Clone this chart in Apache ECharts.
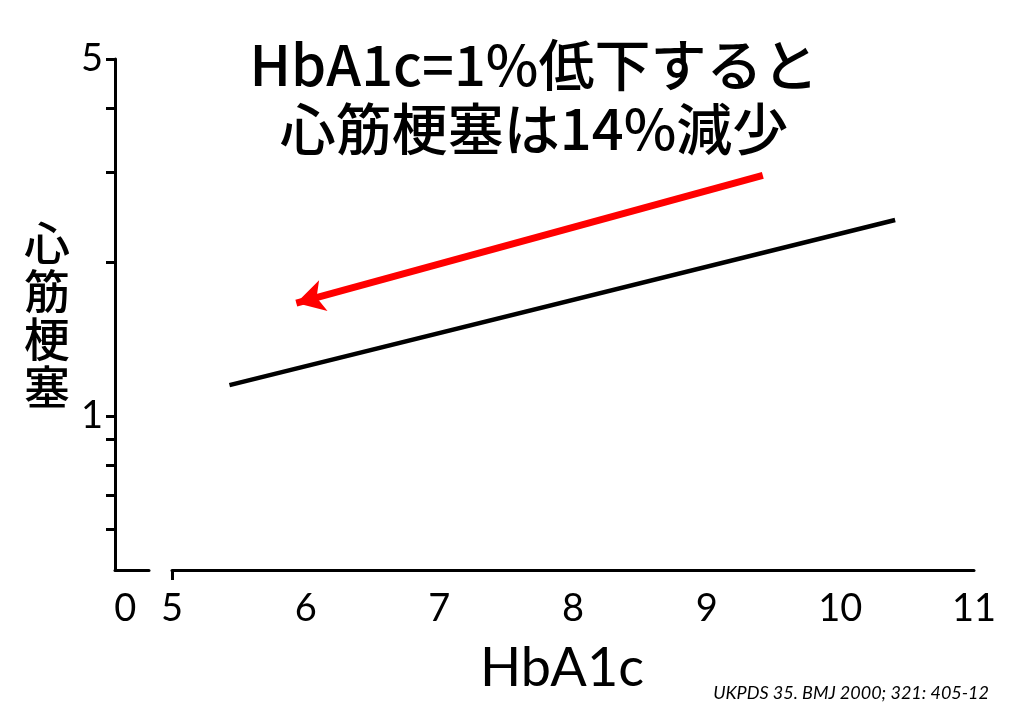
<!DOCTYPE html>
<html><head><meta charset="utf-8">
<script src="https://cdn.jsdelivr.net/npm/echarts@6/dist/echarts.min.js"></script>
<style>html,body{margin:0;padding:0;background:#fff}#c{width:1024px;height:713px}</style>
</head><body><div id="c"></div>
<script>
const titleLines = ['HbA1c=1%低下すると', '心筋梗塞は14%減少'];
const yName = '心筋梗塞';
const xName = 'HbA1c';
const source = 'UKPDS 35. BMJ 2000; 321: 405-12';
const xTickLabels = [5, 6, 7, 8, 9, 10, 11];
const yTickLabels = [1, 5];
const yMinorTicks = [0.6, 0.7, 0.8, 0.9, 1, 2, 3, 4, 5];
const riskLine = [[5.43, 1.15], [10.41, 2.42]];
const arrowFrom = [9.42, 2.96];
const arrowTo = [5.93, 1.665];

const chart = echarts.init(document.getElementById('c'), null, {renderer: 'canvas'});
const latin = 'Lato, "Noto Sans CJK JP", sans-serif';
const cjk = '"Noto Sans CJK JP", sans-serif';
chart.setOption({
  animation: false,
  backgroundColor: '#fff',
  title: [
    {text: titleLines.join('\n'), top: 28, left: 529, textAlign: 'center',
     textStyle: {fontFamily: cjk, fontSize: 56, fontWeight: 500, color: '#000', lineHeight: 64}},
    {text: source, right: 30, top: 679,
     textStyle: {fontFamily: latin, fontSize: 18, fontStyle: 'italic', fontWeight: 'normal', color: '#000'}}
  ],
  grid: [
    {left: 172, right: 50, top: 59, bottom: 143},
    {left: 115, width: 34, top: 59, bottom: 143}
  ],
  xAxis: [
    {type: 'value', gridIndex: 0, min: 5, max: 11, interval: 1,
     name: xName, nameLocation: 'middle', nameGap: 72,
     nameTextStyle: {fontFamily: latin, fontSize: 54, color: '#000', padding: [0, 22, 0, 0]},
     axisLine: {lineStyle: {color: '#000', width: 3}},
     axisTick: {show: true, customValues: [5], length: 10, lineStyle: {color: '#000', width: 3}},
     axisLabel: {customValues: xTickLabels, fontFamily: latin, fontSize: 38, color: '#000', margin: 20},
     splitLine: {show: false}},
    {type: 'value', gridIndex: 1, min: -0.3, max: 0.7,
     axisLine: {lineStyle: {color: '#000', width: 3}},
     axisTick: {show: false},
     axisLabel: {customValues: [0], fontFamily: latin, fontSize: 38, color: '#000', margin: 20},
     splitLine: {show: false}}
  ],
  yAxis: [
    {type: 'log', gridIndex: 0, min: 0.5, max: 5, logBase: 10, offset: 57,
     name: yName.split('').join('\n'), nameLocation: 'middle', nameGap: 45, nameRotate: 0,
     nameTextStyle: {fontFamily: cjk, fontSize: 46, fontWeight: 500, color: '#000', lineHeight: 48, padding: [0, 0, 40, 0]},
     axisLine: {show: true, lineStyle: {color: '#000', width: 3}},
     axisTick: {show: true, customValues: yMinorTicks, length: 9, lineStyle: {color: '#000', width: 3}},
     axisLabel: {customValues: yTickLabels, fontFamily: latin, fontSize: 38, color: '#000', margin: 12},
     splitLine: {show: false}},
    {type: 'value', gridIndex: 1, show: false}
  ],
  series: [
    {type: 'line', xAxisIndex: 0, yAxisIndex: 0, data: riskLine, symbol: 'none',
     lineStyle: {color: '#000', width: 4.5}, silent: true,
     markLine: {silent: true, symbol: ['none', 'arrow'], symbolSize: [24, 28],
       label: {show: false},
       lineStyle: {color: '#ff0000', width: 7, type: 'solid'},
       data: [[{coord: arrowFrom}, {coord: arrowTo}]]}}
  ]
});
</script></body></html>
